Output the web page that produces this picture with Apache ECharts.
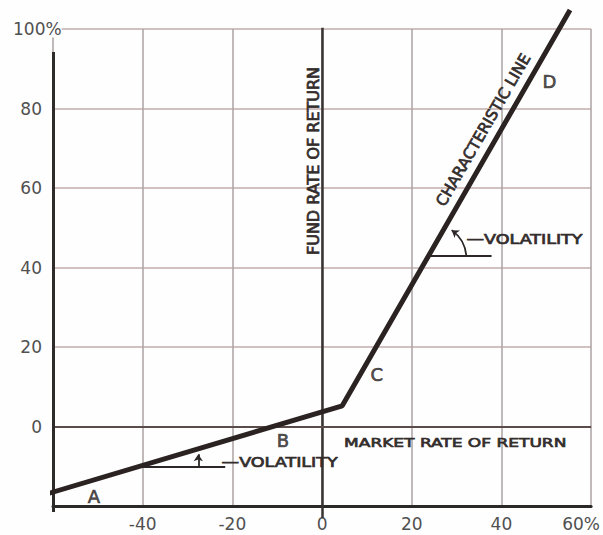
<!DOCTYPE html>
<html>
<head>
<meta charset="utf-8">
<script src="https://cdn.jsdelivr.net/npm/echarts@6/dist/echarts.min.js"></script>
<style>
  html, body {margin: 0; padding: 0; background: #fff;}
  #chart {width: 603px; height: 535px;}
</style>
</head>
<body>
<div id="chart"></div>
<script>
// characteristic line: market rate of return (x) vs fund rate of return (y), %
const lineX = [-68, 4.5, 55.3];
const lineY = [-19.2, 5.2, 104.8];

// labelled ticks
const xTicks = [-40, -20, 0, 20, 40, 60];
const yTicks = [0, 20, 40, 60, 80, 100];

// segment letters along the line
const pointNames = ['A', 'B', 'C', 'D'];
const pointX = [-50.9, -8.7, 12.2, 50.7];
const pointY = [-17.5, -3.6, 13.0, 86.7];

// captions
const noteText = ['FUND RATE OF RETURN', 'CHARACTERISTIC LINE', 'MARKET RATE OF RETURN', '—VOLATILITY', '—VOLATILITY'];
const noteX = [-2.0, 36.0, 29.7, 32.2, -22.4];
const noteY = [66.8, 74.6, -4.2, 47.2, -8.9];

// axes drawn as heavy rules
const fundAxis = [[0, -23], [0, 100.3]];
const marketAxis = [[-60, 0], [60, 0]];
const leftAxis = [[-60, -21.5], [-60, 94.2]];

// volatility marks: horizontal base and the arrow showing the angle
const baseLines = [[[23.7, 42.9], [37.8, 42.9]], [[-40.5, -10.2], [-21.6, -10.2]]];
const arcArrow = [[32.2, 42.9], [28.9, 49.4]];
const upArrow = [[-27.6, -10.2], [-27.6, -7.0]];

const font = 'DejaVu Sans';
const ink = '#2c2726';
const noteStyle = [
  {size: 16, rotate: 90, scaleX: 1, align: 'center'},
  {size: 15.5, rotate: 60, scaleX: 1, align: 'center'},
  {size: 13, rotate: 0, scaleX: 1.31, align: 'center'},
  {size: 13.5, rotate: 0, scaleX: 1.3, align: 'left'},
  {size: 13.5, rotate: 0, scaleX: 1.3, align: 'left'}
];

const myChart = echarts.init(document.getElementById('chart'), null, {renderer: 'svg'});
myChart.setOption({
  animation: false,
  backgroundColor: '#fefefe',
  grid: {left: 53, right: 10, top: 29, bottom: 29},
  xAxis: {
    type: 'value', min: -60, max: 60, interval: 20,
    axisLine: {onZero: false, lineStyle: {color: '#2b2828', width: 3}},
    axisTick: {show: false},
    splitLine: {lineStyle: {color: '#aaa3a2', width: 1.5}},
    axisLabel: {
      margin: 9, fontFamily: font, fontSize: 17, color: '#505050',
      formatter: v => !xTicks.includes(v) ? '' : (v === 60 ? '{e|60%}' : String(v)),
      rich: {e: {fontFamily: font, fontSize: 17, color: '#505050', padding: [0, 20, 0, 0]}}
    }
  },
  yAxis: {
    type: 'value', min: -20, max: 100, interval: 20,
    axisLine: {show: false},
    axisTick: {show: false},
    splitLine: {lineStyle: {color: '#c2aeac', width: 1.5}},
    axisLabel: {
      margin: 40, align: 'left', fontFamily: font, fontSize: 17, color: '#505050',
      formatter: v => !yTicks.includes(v) ? '' : (v === 100 ? '{p|100%}' : '{n|' + v + '}'),
      rich: {
        n: {fontFamily: font, fontSize: 17, color: '#505050', width: 29, align: 'right'},
        p: {fontFamily: font, fontSize: 17, color: '#505050', backgroundColor: '#fefefe'}
      }
    }
  },
  series: [
    {
      type: 'lines', coordinateSystem: 'cartesian2d', clip: false, silent: true,
      data: [
        {coords: fundAxis, lineStyle: {color: '#383232', width: 2.5}},
        {coords: marketAxis, lineStyle: {color: '#5a4c4a', width: 2}},
        {coords: leftAxis, lineStyle: {color: '#2f2b2b', width: 3}}
      ],
      lineStyle: {opacity: 1, curveness: 0}
    },
    {
      type: 'lines', coordinateSystem: 'cartesian2d', silent: true,
      data: baseLines.map(c => ({coords: c})),
      lineStyle: {color: ink, width: 1.8, opacity: 1, curveness: 0}
    },
    {
      type: 'lines', coordinateSystem: 'cartesian2d', silent: true,
      symbol: ['none', 'arrow'], symbolSize: 7,
      data: [
        {coords: arcArrow, lineStyle: {curveness: -0.23}},
        {coords: upArrow, lineStyle: {curveness: 0}}
      ],
      lineStyle: {color: ink, width: 1.8, opacity: 1}
    },
    {
      type: 'line', clip: false, silent: true, showSymbol: false,
      data: lineX.map((x, i) => [x, lineY[i]]),
      lineStyle: {color: '#2a2321', width: 5}
    },
    {
      type: 'scatter', silent: true, symbolSize: 1,
      itemStyle: {color: 'rgba(0,0,0,0)'},
      data: pointNames.map((n, i) => ({name: n, value: [pointX[i], pointY[i]]})),
      label: {
        show: true, position: 'inside', formatter: '{b}', fontFamily: font, fontSize: 18,
        color: ink, textBorderColor: ink, textBorderWidth: 0.7
      }
    },
    {
      type: 'custom', silent: true,
      data: noteText.map((t, i) => [noteX[i], noteY[i], i]),
      encode: {x: 0, y: 1},
      renderItem: (params, api) => {
        const i = api.value(2);
        const s = noteStyle[i];
        const p = api.coord([api.value(0), api.value(1)]);
        return {
          type: 'text', x: p[0], y: p[1],
          rotation: s.rotate * Math.PI / 180, scaleX: s.scaleX,
          style: {
            text: noteText[i], fill: '#332d2c', stroke: '#332d2c', lineWidth: 0.7,
            fontFamily: font, fontSize: s.size, align: s.align, verticalAlign: 'middle'
          }
        };
      }
    }
  ]
});
</script>
</body>
</html>
